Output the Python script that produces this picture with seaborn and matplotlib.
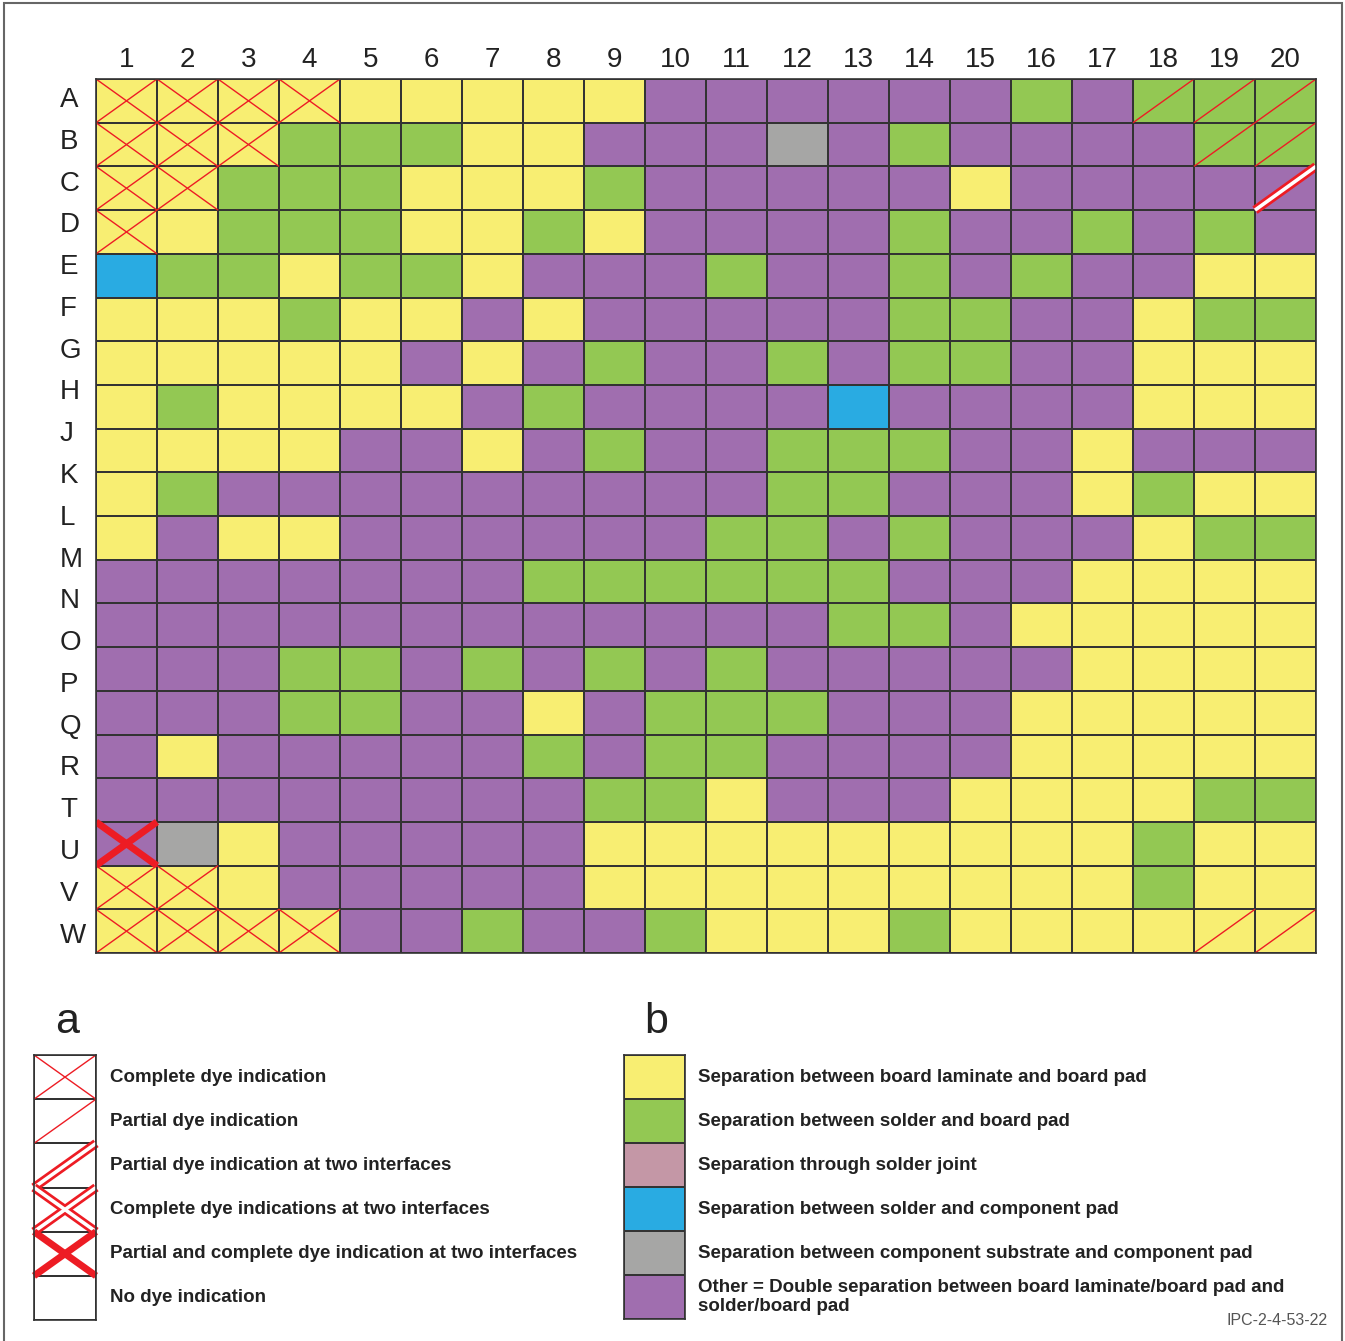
import numpy as np
import matplotlib
matplotlib.use("Agg")
import matplotlib.pyplot as plt
from matplotlib.colors import ListedColormap
from matplotlib.patches import Rectangle
import seaborn as sns

# grid labels
col_labels = [str(i) for i in range(1, 21)]
row_labels = list("ABCDEFGHJKLMNOPQRTUVW")

# failure mode per ball, one string per grid row
# Y laminate/pad, G solder/pad, K through joint, B solder/component pad, S substrate/component pad, P other
mode_rows = [
    "YYYYYYYYYPPPPPPGPGGG",
    "YYYGGGYYPPPSPGPPPPGG",
    "YYGGGYYYGPPPPPYPPPPP",
    "YYGGGYYGYPPPPGPPGPGP",
    "BGGYGGYPPPGPPGPGPPYY",
    "YYYGYYPYPPPPPGGPPYGG",
    "YYYYYPYPGPPGPGGPPYYY",
    "YGYYYYPGPPPPBPPPPYYY",
    "YYYYPPYPGPPGGGPPYPPP",
    "YGPPPPPPPPPGGPPPYGYY",
    "YPYYPPPPPPGGPGPPPYGG",
    "PPPPPPPGGGGGGPPPYYYY",
    "PPPPPPPPPPPPGGPYYYYY",
    "PPPGGPGPGPGPPPPPYYYY",
    "PPPGGPPYPGGGPPPYYYYY",
    "PYPPPPPGPGGPPPPYYYYY",
    "PPPPPPPPGGYPPPYYYYGG",
    "PSYPPPPPYYYYYYYYYGYY",
    "YYYPPPPPYYYYYYYYYGYY",
    "YYYYPPGPPGYYYGYYYYYY",
]

# dye indication per ball: x complete, / partial, = partial at two interfaces,
# X partial and complete at two interfaces, . none
dye_rows = [
    "xxxx.............///",
    "xxx...............//",
    "xx.................=",
    "x...................",
    "....................",
    "....................",
    "....................",
    "....................",
    "....................",
    "....................",
    "....................",
    "....................",
    "....................",
    "....................",
    "....................",
    "....................",
    "....................",
    "X...................",
    "xx..................",
    "xxxx..............//",
]

mode_keys = ["Y", "G", "K", "B", "S", "P"]
mode_colors = ["#F8EE72", "#93C853", "#C497A6", "#29ABE2", "#A6A6A5", "#A06EAF"]
mode_names = [
    "Separation between board laminate and board pad",
    "Separation between solder and board pad",
    "Separation through solder joint",
    "Separation between solder and component pad",
    "Separation between component substrate and component pad",
    "Other = Double separation between board laminate/board pad and\nsolder/board pad",
]

dye_keys = ["x", "/", "=", "#", "X", "."]
dye_names = [
    "Complete dye indication",
    "Partial dye indication",
    "Partial dye indication at two interfaces",
    "Complete dye indications at two interfaces",
    "Partial and complete dye indication at two interfaces",
    "No dye indication",
]

RED = "#ED1C24"
LINE = "#333333"
W, H = 1345, 1341

sns.set_style("white")
plt.rcParams["font.family"] = ["Liberation Sans", "DejaVu Sans"]


def fig_rect(x0, y0, x1, y1):
    # pixel box -> figure fraction [left, bottom, width, height]
    return [x0 / W, 1 - y1 / H, (x1 - x0) / W, (y1 - y0) / H]


def draw_dye(ax, r, c, kind, clip=True):
    up = ([c, c + 1], [r + 1, r])
    down = ([c, c + 1], [r, r + 1])
    kw = dict(solid_capstyle="butt", clip_on=clip)
    if kind == "x":
        for xs, ys in (up, down):
            ax.plot(xs, ys, color=RED, lw=1.0, **kw)
    elif kind == "/":
        ax.plot(*up, color=RED, lw=1.0, **kw)
    elif kind in "=#":
        segs = [up] if kind == "=" else [up, down]
        for xs, ys in segs:
            ax.plot(xs, ys, color=RED, lw=6.5, **kw)
        for xs, ys in segs:
            ax.plot(xs, ys, color="white", lw=2.6, **kw)
    elif kind == "X":
        for xs, ys in (up, down):
            ax.plot(xs, ys, color=RED, lw=5, **kw)


fig = plt.figure(figsize=(W / 100, H / 100), dpi=100)

# main grid
codes = np.array([[mode_keys.index(ch) for ch in row] for row in mode_rows])
ax = fig.add_axes(fig_rect(96, 79, 1316, 953))
sns.heatmap(codes, cmap=ListedColormap(mode_colors), vmin=-0.5, vmax=5.5,
            cbar=False, linewidths=1.2, linecolor=LINE,
            xticklabels=col_labels, ax=ax)
for r, row in enumerate(dye_rows):
    for c, ch in enumerate(row):
        if ch != ".":
            draw_dye(ax, r, c, ch)
ax.xaxis.tick_top()
ax.tick_params(axis="x", length=0, pad=4, labelsize=20, labelcolor="#222222")
ax.set_xticklabels(col_labels, rotation=0)
ax.set_yticks(np.linspace(0.48, 19.6, len(row_labels)))
ax.set_yticklabels(row_labels, rotation=0, fontsize=20, color="#222222")
ax.tick_params(axis="y", length=0, pad=26)
for t in ax.get_yticklabels():
    t.set_horizontalalignment("left")
for s in ax.spines.values():
    s.set_visible(True)
    s.set_color(LINE)
    s.set_linewidth(1.2)

# legend a: dye indications
ax_a = fig.add_axes(fig_rect(34, 1055, 96, 1320))
sns.heatmap(np.zeros((len(dye_keys), 1)), cmap=ListedColormap(["white"]),
            cbar=False, linewidths=1.2, linecolor=LINE,
            xticklabels=False, yticklabels=dye_names, ax=ax_a)
for r, ch in enumerate(dye_keys):
    draw_dye(ax_a, r, 0, ch, clip=False)

# legend b: failure modes
ax_b = fig.add_axes(fig_rect(624, 1055, 685, 1319))
sns.heatmap(np.arange(len(mode_keys)).reshape(-1, 1), cmap=ListedColormap(mode_colors),
            vmin=-0.5, vmax=5.5, cbar=False, linewidths=1.2, linecolor=LINE,
            xticklabels=False, yticklabels=mode_names, ax=ax_b)

for a, pad in ((ax_a, 10), (ax_b, 9)):
    a.yaxis.tick_right()
    a.tick_params(axis="y", length=0, pad=pad)
    for t in a.get_yticklabels():
        t.set_rotation(0)
        t.set_horizontalalignment("left")
        t.set_verticalalignment("center")
        t.set_fontweight("bold")
        t.set_fontsize(13.5)
        t.set_color("#222222")
    for s in a.spines.values():
        s.set_visible(True)
        s.set_color(LINE)
        s.set_linewidth(1.2)

fig.text(55 / W, 1 - 1033 / H, "a", fontsize=31, va="baseline", color="#222222")
fig.text(644 / W, 1 - 1033 / H, "b", fontsize=31, va="baseline", color="#222222")
fig.text(1328 / W, 1 - 1325 / H, "IPC-2-4-53-22", fontsize=11.5, ha="right",
         va="baseline", color="#555555")

# outer frame (open at the bottom edge)
fig.patches.append(Rectangle((4 / W, -0.01), 1338 / W, 1.01 - 3 / H, fill=False,
                             edgecolor="#666666", lw=1.5, transform=fig.transFigure))

fig.savefig("out.png", dpi=100)
